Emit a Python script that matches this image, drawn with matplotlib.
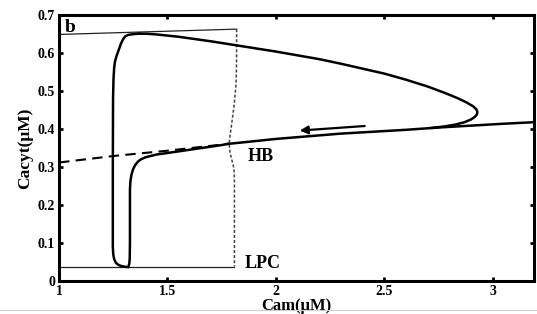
import matplotlib
matplotlib.use('Agg')
import matplotlib.pyplot as plt
from matplotlib.lines import Line2D

plt.rcParams['font.family'] = ['Liberation Serif', 'DejaVu Serif']
plt.rcParams['font.weight'] = 'bold'

# stable equilibrium (lower part, right of HB)
eq_low_x = [1.78, 1.90, 2.00, 2.15, 2.30, 2.45, 2.60, 2.75, 2.90, 3.05, 3.19]
eq_low_y = [0.361, 0.368, 0.374, 0.381, 0.388, 0.393, 0.398, 0.404, 0.409, 0.414, 0.418]

# unstable equilibrium (left of HB)
eq_uns_x = [1.00, 1.25, 1.50, 1.78]
eq_uns_y = [0.312, 0.329, 0.343, 0.361]

# upper equilibrium branch with fold
eq_up_x = [1.37, 1.40, 1.45, 1.50, 1.55, 1.60, 1.65, 1.70, 1.80, 1.90, 2.00, 2.10, 2.20, 2.30,
           2.40, 2.50, 2.60, 2.70, 2.78, 2.84, 2.88, 2.91, 2.925, 2.930, 2.927, 2.918, 2.90,
           2.87, 2.83, 2.78, 2.72]
eq_up_y = [0.651, 0.651, 0.649, 0.646, 0.643, 0.639, 0.635, 0.631, 0.622, 0.613, 0.604, 0.594,
           0.584, 0.572, 0.559, 0.546, 0.530, 0.512, 0.495, 0.481, 0.470, 0.460, 0.452, 0.445,
           0.438, 0.432, 0.425, 0.418, 0.412, 0.407, 0.403]

# stable periodic orbit, max branch
po_max_x = [1.37, 1.345, 1.32, 1.305, 1.295, 1.285, 1.275, 1.265, 1.258, 1.254, 1.251, 1.249,
            1.248, 1.248, 1.250, 1.254, 1.262, 1.275, 1.29, 1.31]
po_max_y = [0.651, 0.650, 0.648, 0.644, 0.636, 0.624, 0.608, 0.592, 0.578, 0.560, 0.530, 0.480,
            0.300, 0.090, 0.070, 0.058, 0.048, 0.042, 0.039, 0.037]

# stable periodic orbit, min branch
po_min_x = [1.319, 1.324, 1.326, 1.327, 1.327, 1.329, 1.334, 1.342, 1.352, 1.365, 1.38, 1.40,
            1.45, 1.50, 1.56, 1.62, 1.68, 1.74, 1.78]
po_min_y = [0.037, 0.045, 0.060, 0.100, 0.240, 0.262, 0.280, 0.295, 0.306, 0.315, 0.321, 0.326,
            0.333, 0.337, 0.342, 0.347, 0.352, 0.357, 0.361]

# unstable periodic orbit
po_uns_x = [1.819, 1.819, 1.818, 1.816, 1.812, 1.807, 1.800, 1.793, 1.787, 1.785, 1.787, 1.793,
            1.800, 1.806, 1.808, 1.809, 1.809]
po_uns_y = [0.663, 0.600, 0.550, 0.515, 0.490, 0.460, 0.430, 0.400, 0.375, 0.361, 0.345, 0.328,
            0.312, 0.298, 0.285, 0.260, 0.038]

# LPC guide lines
top_x = [1.00, 1.819]
top_y = [0.649, 0.663]
bot_x = [1.00, 1.809]
bot_y = [0.038, 0.038]

xticks = [1, 1.5, 2, 2.5, 3]
xticklabels = ['1', '1.5', '2', '2.5', '3']
yticks = [0, 0.1, 0.2, 0.3, 0.4, 0.5, 0.6, 0.7]
yticklabels = ['0', '0.1', '0.2', '0.3', '0.4', '0.5', '0.6', '0.7']

fig = plt.figure(figsize=(5.37, 3.14), dpi=100)
ax = fig.add_axes([0.110, 0.105, 0.884, 0.847])

ax.plot(top_x, top_y, color='#222222', lw=0.9)
ax.plot(bot_x, bot_y, color='#222222', lw=0.9)
ax.plot(po_uns_x, po_uns_y, color='#444444', lw=1.1, ls=(0, (2, 1.3)))
ax.plot(eq_uns_x, eq_uns_y, color='black', lw=1.5, ls=(0, (5, 3)))
ax.plot(eq_low_x, eq_low_y, color='black', lw=1.8)
ax.plot(eq_up_x, eq_up_y, color='black', lw=1.8)
ax.plot(po_max_x, po_max_y, color='black', lw=1.8)
ax.plot(po_min_x, po_min_y, color='black', lw=1.8)

ax.annotate('', xy=(2.11, 0.396), xytext=(2.41, 0.408),
            arrowprops=dict(arrowstyle='-|>', color='black', lw=1.6,
                            mutation_scale=12, shrinkA=0, shrinkB=0))

ax.text(1.025, 0.668, 'b', fontsize=14, fontweight='bold', ha='left', va='center')
ax.text(1.87, 0.327, 'HB', fontsize=13, fontweight='bold', ha='left', va='center')
ax.text(1.855, 0.045, 'LPC', fontsize=13, fontweight='bold', ha='left', va='center')

ax.set_xlim(1, 3.19)
ax.set_ylim(0, 0.7)
ax.set_xticks(xticks)
ax.set_xticklabels(xticklabels)
ax.set_yticks(yticks)
ax.set_yticklabels(yticklabels)
ax.tick_params(direction='in', top=True, right=True, length=3, width=2,
               labelsize=10, pad=3)
for lab in ax.get_xticklabels() + ax.get_yticklabels():
    lab.set_fontweight('bold')
for s in ax.spines.values():
    s.set_linewidth(2.2)

ax.set_xlabel('Cam(μM)', fontsize=12, fontweight='bold', labelpad=0)
ax.set_ylabel('Cacyt(μM)', fontsize=12.5, fontweight='bold', labelpad=3)

fig.add_artist(Line2D([0.0, 1.0], [0.013, 0.013], color='#d0d0d0', lw=0.8))

fig.savefig('out.png', dpi=100)
